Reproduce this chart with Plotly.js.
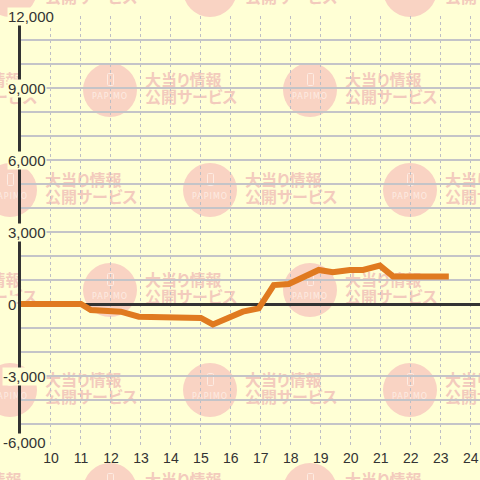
<!DOCTYPE html>
<html>
<head>
<meta charset="utf-8">
<script src="https://cdn.plot.ly/plotly-3.0.1.min.js"></script>
<style>
  html, body { margin: 0; padding: 0; background: #ffffd5; width: 480px; height: 480px; overflow: hidden; }
  #wm { position: absolute; left: 0; top: 0; width: 480px; height: 480px; overflow: hidden; z-index: 0; }
  #chart { position: absolute; left: 0; top: 0; width: 480px; height: 480px; z-index: 1; }
  .circ { position: absolute; width: 54px; height: 54px; border-radius: 50%; background: #f9d3c3; }
  .phone { position: absolute; width: 5px; height: 11px; border: 1.3px solid #fdebe2; border-radius: 1.5px; }
  .pap { position: absolute; width: 54px; text-align: center; font-family: 'DejaVu Sans', sans-serif; font-size: 8px; letter-spacing: 1px; color: #fdebe2; }
  .wt { position: absolute; font-family: 'Noto Sans CJK JP', sans-serif; font-weight: bold; font-size: 16px; line-height: 17px; color: #f3cbbd; white-space: nowrap; font-feature-settings: "palt"; }
</style>
</head>
<body>
<div id="wm"></div>
<div id="chart"></div>
<script>
// ---- data ----
var hours = [9, 11, 11.33, 12.33, 12.93, 15.0, 15.4, 16.4, 16.93, 17.43, 17.93, 18.93, 19.4, 19.97, 20.41, 20.97, 21.41, 23.27];
var balance = [0, 0, -250, -320, -530, -580, -850, -320, -180, 790, 830, 1420, 1320, 1420, 1420, 1600, 1150, 1150];
var xTickVals = [10, 11, 12, 13, 14, 15, 16, 17, 18, 19, 20, 21, 22, 23, 24];
var xTickText = ['10', '11', '12', '13', '14', '15', '16', '17', '18', '19', '20', '21', '22', '23', '24'];
var yTickVals = [-6000, -3000, 0, 3000, 6000, 9000, 12000];
var yTickText = ['-6,000', '-3,000', '0', '3,000', '6,000', '9,000', '12,000'];
var wmLine1 = '大当り情報';
var wmLine2 = '公開サービス';
var wmLogo = 'PAPIMO';

// ---- watermark (background decoration) ----
var wm = document.getElementById('wm');
for (var r = -1; r <= 5; r++) {
  var cy = -10 + r * 100;
  var off = (r % 2 === 0) ? 10 : -90;
  if (r < 0) off = 110 - 200;
  for (var c = -1; c <= 3; c++) {
    var cx = off + c * 200;
    var circ = document.createElement('div');
    circ.className = 'circ';
    circ.style.left = (cx - 27) + 'px';
    circ.style.top = (cy - 27) + 'px';
    wm.appendChild(circ);
    var ph = document.createElement('div');
    ph.className = 'phone';
    ph.style.left = (cx - 3) + 'px';
    ph.style.top = (cy - 17) + 'px';
    wm.appendChild(ph);
    var pap = document.createElement('div');
    pap.className = 'pap';
    pap.textContent = wmLogo;
    pap.style.left = (cx - 27) + 'px';
    pap.style.top = (cy + 2) + 'px';
    wm.appendChild(pap);
    var t = document.createElement('div');
    t.className = 'wt';
    t.innerHTML = wmLine1 + '<br>' + wmLine2;
    t.style.left = (cx + 35) + 'px';
    t.style.top = (cy - 19) + 'px';
    wm.appendChild(t);
  }
}

// ---- chart ----
var BG = '#ffffd5';
var plotLeft = 21, plotWidth = 459;
var annotations = yTickVals.map(function (v, i) {
  var txt = yTickText[i];
  var px = txt.charAt(0) === '-' ? 2 : 7;
  return {
    xref: 'paper', yref: 'y',
    x: (px - plotLeft) / plotWidth, y: v,
    xanchor: 'left', yanchor: 'middle',
    yshift: i === 0 ? 6 : 0,
    text: txt, showarrow: false,
    bgcolor: BG, borderpad: 0,
    font: { family: 'Liberation Sans, Arial, sans-serif', size: 15, color: '#333333' }
  };
});

var trace = {
  x: hours, y: balance,
  type: 'scatter', mode: 'lines',
  line: { color: '#e07a20', width: 6, shape: 'linear' },
  hoverinfo: 'skip'
};

var layout = {
  width: 480, height: 480,
  margin: { l: 21, r: 0, t: 16, b: 32, pad: 0 },
  paper_bgcolor: 'rgba(0,0,0,0)',
  plot_bgcolor: 'rgba(0,0,0,0)',
  showlegend: false,
  xaxis: {
    range: [9, 24.31],
    tickmode: 'array', tickvals: xTickVals, ticktext: xTickText,
    showgrid: true, gridcolor: '#bebec6', gridwidth: 1, griddash: '3px,3px',
    zeroline: false, showline: false, ticks: '',
    tickfont: { family: 'Liberation Sans, Arial, sans-serif', size: 14, color: '#333333' },
    fixedrange: true
  },
  yaxis: {
    range: [-6000, 12000],
    tickmode: 'linear', tick0: 0, dtick: 1000,
    showticklabels: false, ticks: '',
    showgrid: true, gridcolor: '#c4c4c8', gridwidth: 1.2,
    zeroline: true, zerolinecolor: '#333333', zerolinewidth: 3,
    showline: true, linecolor: '#333333', linewidth: 3,
    fixedrange: true
  },
  annotations: annotations
};

Plotly.newPlot('chart', [trace], layout, { displayModeBar: false, staticPlot: true });
</script>
</body>
</html>
